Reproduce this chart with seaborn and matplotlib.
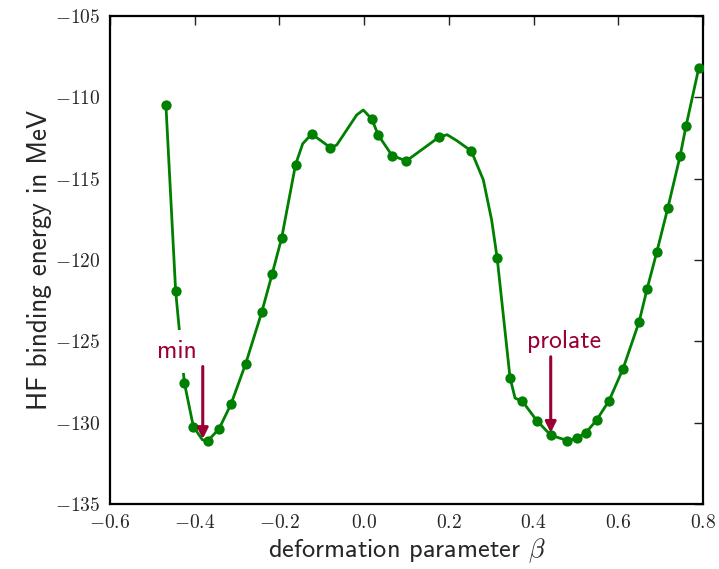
import matplotlib
matplotlib.use("Agg")
import matplotlib.pyplot as plt
from matplotlib.ticker import FuncFormatter
import seaborn as sns
import pandas as pd

# data points (markers)
beta_pts = [-0.468, -0.445, -0.4245, -0.4032, -0.3693, -0.3425, -0.3142, -0.2796,
            -0.2418, -0.2174, -0.1946, -0.162, -0.1237, -0.0798, 0.018, 0.0335,
            0.066, 0.0997, 0.177, 0.253, 0.314, 0.3444, 0.3735, 0.4075, 0.4405,
            0.4797, 0.502, 0.5238, 0.549, 0.578, 0.611, 0.649, 0.668, 0.691,
            0.717, 0.746, 0.760, 0.790]
energy_pts = [-110.47, -121.92, -127.54, -130.24, -131.12, -130.38, -128.85, -126.37,
              -123.21, -120.88, -118.63, -114.14, -112.25, -113.09, -111.33, -112.33,
              -113.58, -113.91, -112.44, -113.30, -119.87, -127.23, -128.68, -129.87,
              -130.77, -131.10, -130.96, -130.61, -129.83, -128.66, -126.70, -123.81,
              -121.78, -119.50, -116.80, -113.60, -111.76, -108.20]

# additional points (line only)
beta_extra = [-0.382, -0.145, -0.0647, -0.0175, -0.002, 0.196, 0.2186, 0.2814, 0.301, 0.3563]
energy_extra = [-131.05, -112.85, -112.93, -111.08, -110.78, -112.30, -112.66, -115.08, -117.54, -128.49]

# annotations
labels = ["min", "prolate"]
label_xy = [(-0.4424, -125.63), (0.472, -125.02)]
arrow_tail = [(-0.381, -126.55), (0.4405, -125.95)]
arrow_head = [(-0.381, -131.0), (0.4405, -130.62)]

xticks = [-0.6, -0.4, -0.2, 0.0, 0.2, 0.4, 0.6, 0.8]
yticks = [-135, -130, -125, -120, -115, -110, -105]

sns.set_style("white")
plt.rcParams["font.family"] = ["cmss10", "DejaVu Sans"]
plt.rcParams["mathtext.fontset"] = "cm"
plt.rcParams["axes.unicode_minus"] = False

pts = pd.DataFrame({"beta": beta_pts, "E": energy_pts})
curve = pd.DataFrame({"beta": beta_pts + beta_extra,
                      "E": energy_pts + energy_extra}).sort_values("beta")

fig = plt.figure(figsize=(7.19, 5.69), dpi=100)
ax = fig.add_axes([110 / 719, 1 - 504 / 569, (703 - 110) / 719, (504 - 16) / 569])

green = "#008000"
sns.lineplot(data=curve, x="beta", y="E", ax=ax, color=green, lw=2.0, sort=True,
             estimator=None, zorder=2)
sns.scatterplot(data=pts, x="beta", y="E", ax=ax, color=green, s=55,
                edgecolor=green, linewidth=0, zorder=3)

acol = "#990033"
for lab, (tx, ty), tail, head in zip(labels, label_xy, arrow_tail, arrow_head):
    ax.annotate("", xy=head, xytext=tail,
                arrowprops=dict(arrowstyle="-|>", color=acol, lw=2.2,
                                mutation_scale=16, shrinkA=0, shrinkB=0),
                zorder=5)
    ax.text(tx, ty, lab, color=acol, fontsize=18.5, ha="center", va="center",
            bbox=dict(facecolor="white", edgecolor="none", pad=7), zorder=4)

ax.set_xlim(-0.6, 0.8)
ax.set_ylim(-135, -105)
ax.set_xticks(xticks)
ax.set_yticks(yticks)
ax.xaxis.set_major_formatter(FuncFormatter(lambda v, p: r"$%.1f$" % v))
ax.yaxis.set_major_formatter(FuncFormatter(lambda v, p: r"$%d$" % round(v)))
ax.tick_params(direction="in", length=6.5, width=1, top=True, right=True,
               labelsize=14, pad=7, color="#222222")
for s in ax.spines.values():
    s.set_linewidth(1.6)
    s.set_color("black")
    s.set_visible(True)

ax.set_xlabel(r"deformation parameter $\beta$", fontsize=19, labelpad=3)
ax.set_ylabel("HF binding energy in MeV", fontsize=19.5, labelpad=2)

fig.savefig("out.png", dpi=100)
